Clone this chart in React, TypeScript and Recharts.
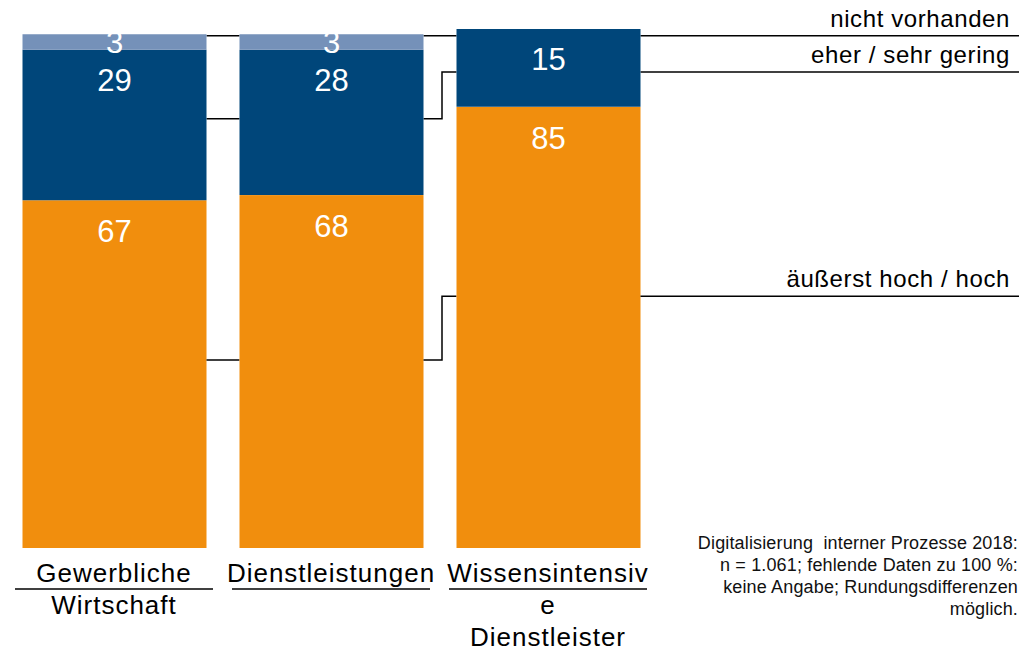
import React from "react";
import { BarChart, Bar, XAxis, YAxis, LabelList } from "recharts";

const categories = ["Gewerbliche Wirtschaft", "Dienstleistungen", "Wissensintensive Dienstleister"];
const categoryLines = [["Gewerbliche", "Wirtschaft"], ["Dienstleistungen"], ["Wissensintensiv", "e", "Dienstleister"]];
const seriesNames = ["äußerst hoch / hoch", "eher / sehr gering", "nicht vorhanden"];
const hoch = [67, 68, 85];
const gering = [29, 28, 15];
const nicht = [3, 3, 0];
// leader line levels (in % of the axis) per category
const hochLeader = [36.2, 36.2, 48.5];
const geringLeader = [82.7, 82.7, 91.7];
const nichtLeader = [98.7, 98.7, 98.7];
const noteLines = [
  "Digitalisierung  interner Prozesse 2018:",
  "n = 1.061; fehlende Daten zu 100 %:",
  "keine Angabe; Rundungsdifferenzen",
  "möglich.",
];

const data = categories.map((c, i) => ({ category: c, hoch: hoch[i], gering: gering[i], nicht: nicht[i] }));

const W = 1034;
const H = 651;
const MARGIN = { top: 29, right: 377.5, bottom: 73, left: 5.5 };
const PLOT_W = W - MARGIN.left - MARGIN.right;
const LINE_END = 1019;
const FONT = "'Liberation Sans', Arial, Helvetica, sans-serif";
const ORANGE = "#F18E0D";
const BLUE = "#00467A";
const LIGHT = "#7591B9";

const OrangeShape = (props: any) => {
  const { x, y, width, height, index } = props;
  const unit = height / hoch[index];
  const base = y + height;
  const band = PLOT_W / categories.length;
  const gap = band - width;
  const right = x + width;
  const leaders = [hochLeader, geringLeader, nichtLeader];
  const last = index === categories.length - 1;
  return (
    <g>
      <rect x={x} y={y} width={width} height={height} fill={ORANGE} />
      {leaders.map((lv, k) => {
        const y1 = base - lv[index] * unit;
        if (!last) {
          const y2 = base - lv[index + 1] * unit;
          const mid = right + gap / 2 + 2;
          return (
            <polyline
              key={k}
              points={`${right},${y1} ${mid},${y1} ${mid},${y2} ${right + gap},${y2}`}
              fill="none"
              stroke="#000"
              strokeWidth={1.5}
            />
          );
        }
        return (
          <g key={k}>
            <line x1={right} y1={y1} x2={LINE_END} y2={y1} stroke="#000" strokeWidth={1.5} />
            <text
              x={LINE_END - 9}
              y={y1 - 9}
              textAnchor="end"
              fontSize={24}
              letterSpacing={0.6}
              fontFamily={FONT}
              fill="#000"
            >
              {seriesNames[k]}
            </text>
          </g>
        );
      })}
    </g>
  );
};

const CategoryTick = (props: any) => {
  const { x, y, index } = props;
  const lines = categoryLines[index] || [];
  return (
    <g>
      <line x1={x - 99} y1={y + 41} x2={x + 99} y2={y + 41} stroke="#000" strokeWidth={1.5} />
      {lines.map((l, i) => (
        <text
          key={i}
          x={x}
          y={y + 34 + i * 32}
          textAnchor="middle"
          fontSize={26}
          letterSpacing={1}
          fontFamily={FONT}
          fill="#000"
        >
          {l}
        </text>
      ))}
    </g>
  );
};

const labelStyle = { fill: "#fff", fontSize: 31, fontFamily: FONT };

export default function App() {
  return (
    <div style={{ position: "absolute", left: 0, top: 0, width: W, height: H, background: "#fff" }}>
      <BarChart width={W} height={H} data={data} margin={MARGIN} barSize={184}>
        <XAxis
          dataKey="category"
          height={30}
          axisLine={false}
          tickLine={false}
          tickSize={0}
          tickMargin={0}
          interval={0}
          tick={<CategoryTick />}
        />
        <YAxis hide domain={[0, 100]} />
        <Bar dataKey="hoch" stackId="a" fill={ORANGE} shape={<OrangeShape />} isAnimationActive={false}>
          <LabelList dataKey="hoch" position="insideTop" offset={20} style={labelStyle} />
        </Bar>
        <Bar dataKey="gering" stackId="a" fill={BLUE} isAnimationActive={false}>
          <LabelList dataKey="gering" position="insideTop" offset={19} style={labelStyle} />
        </Bar>
        <Bar dataKey="nicht" stackId="a" fill={LIGHT} isAnimationActive={false}>
          <LabelList
            dataKey="nicht"
            position="center"
            style={labelStyle}
            formatter={(v: any) => (v ? v : "")}
          />
        </Bar>
      </BarChart>
      <div
        style={{
          position: "absolute",
          right: W - LINE_END + 1,
          top: 532,
          textAlign: "right",
          fontFamily: FONT,
          fontSize: 18,
          letterSpacing: 0.15,
          lineHeight: "22px",
          color: "#111",
          whiteSpace: "pre",
        }}
      >
        {noteLines.map((l, i) => (
          <div key={i}>{l}</div>
        ))}
      </div>
    </div>
  );
}
